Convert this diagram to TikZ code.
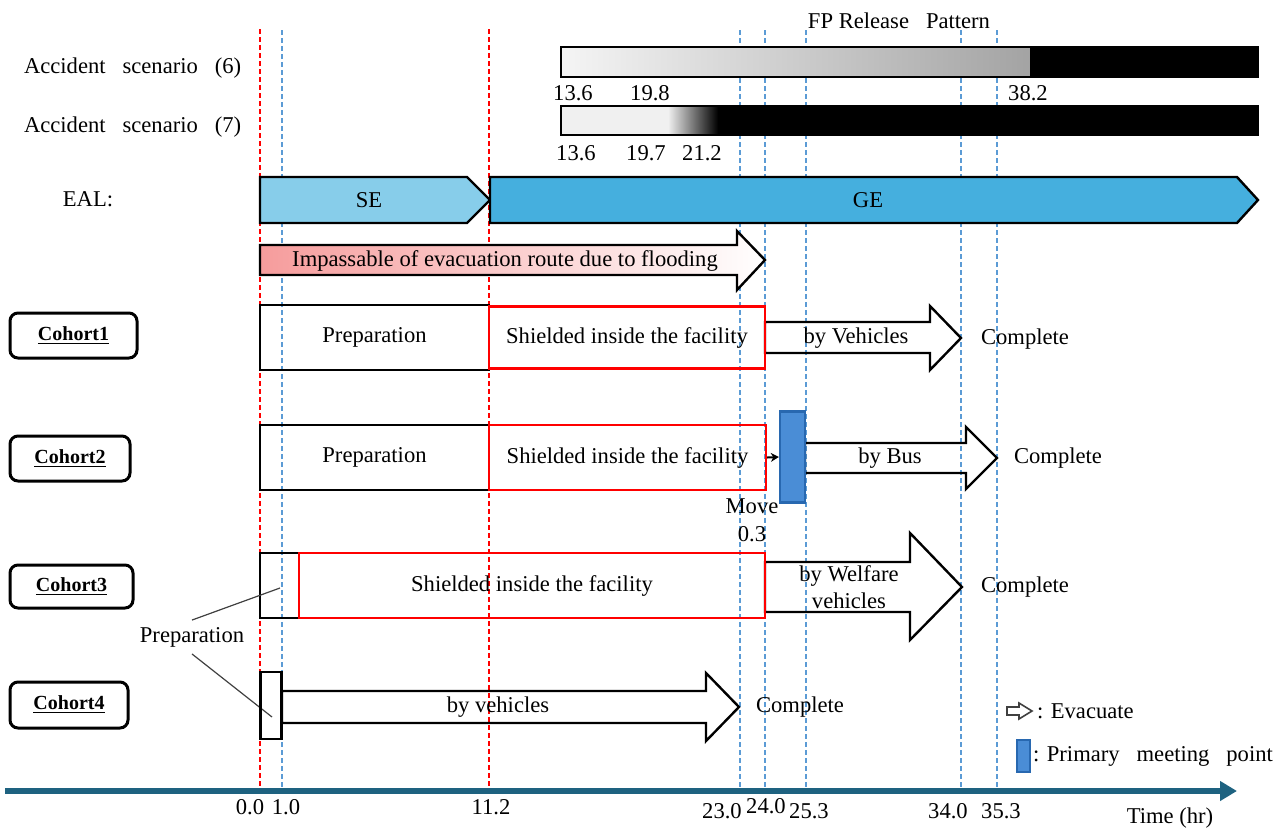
\documentclass[tikz,border=0pt]{standalone}
\usepackage{fontspec}
\setmainfont{Liberation Serif}
\usepackage{tikz}
\usetikzlibrary{calc, arrows.meta}

\definecolor{seblu}{RGB}{135,205,234}
\definecolor{geblu}{RGB}{69,175,222}
\definecolor{rosa}{RGB}{246,156,156}
\definecolor{blutratt}{RGB}{91,155,213}
\definecolor{asseblu}{RGB}{30,98,128}
\definecolor{puntoblu}{RGB}{74,141,214}
\definecolor{bordoblu}{RGB}{40,104,176}

\tikzset{
  rossotratt/.style={red, line width=0.6pt, dash pattern=on 2.5pt off 1.5pt},
  blutr/.style={blutratt, line width=0.6pt, dash pattern=on 2.5pt off 1.5pt},
  fase/.style={draw, line width=1.2pt, inner sep=0pt},
  faserossa/.style={fase, draw=red},
  coorte/.style={draw, line width=1.5pt, rounded corners=4pt, font=\bfseries, inner sep=0pt},
  freccia/.style={draw, line width=1.2pt},
  puntoraccolta/.style={fill=puntoblu, draw=bordoblu, line width=1.2pt, inner sep=0pt},
}

\begin{document}
\begin{tikzpicture}[x=0.5pt, y=-0.5pt, font=\fontsize{11.3}{13.5}\selectfont]
\useasboundingbox (0,0) rectangle (1282,832);

% linee tratteggiate verticali
\foreach \x in {260,489} \draw[rossotratt] (\x,29) -- (\x,790);
\foreach \x in {282,740,765,806,961,997} \draw[blutr] (\x,30) -- (\x,790);

% --- scenari incidentali ---
\node (fp) at (899,21) {FP Release~~~Pattern};
\node[anchor=west] (sc6) at (17,68) {Accident~~~scenario~~~(6)};
\node[anchor=west] (sc7) at (17,127) {Accident~~~scenario~~~(7)};

% barra scenario (6)
\shade[left color=gray!8, right color=gray!72] (561,47) rectangle (1030,77);
\fill (1030,47) rectangle (1258,77);
\draw[line width=1pt] (561,47) rectangle (1258,77);
\node (a136) at (573,93) {13.6};
\node (a198) at (650,93) {19.8};
\node (a382) at (1028,93) {38.2};

% barra scenario (7)
\fill[gray!12] (561,106) rectangle (668,135);
\shade[left color=gray!12, right color=black] (668,106) rectangle (718,135);
\fill (718,106) rectangle (1258,135);
\draw[line width=1pt] (561,106) rectangle (1258,135);
\node (b136) at (576,153) {13.6};
\node (b197) at (646,153) {19.7};
\node (b212) at (702,153) {21.2};

% --- EAL ---
\node (eal) at (88,199) {EAL:};
\draw[freccia, fill=seblu] (260,177) -- (467,177) -- (490,200) -- (467,223) -- (260,223) -- cycle;
\node (se) at (369,200) {SE};
\draw[freccia, fill=geblu] (490,177) -- (1237,177) -- (1258,200) -- (1237,223) -- (490,223) -- cycle;
\node (ge) at (868,200) {GE};

% allagamento
\shadedraw[freccia, left color=rosa, middle color=rosa!85, right color=white]
  (260,245) -- (737,245) -- (737,231) -- (765,260) -- (737,290) -- (737,275) -- (260,275) -- cycle;
\node (imp) at (505,261) {Impassable of evacuation route due to flooding};

% --- Cohort1 ---
\node[coorte, minimum width=63.5pt, minimum height=22.5pt] (co1) at (73.5,335.5) {\underline{Cohort1}};
\draw[freccia] (765,322) -- (930,322) -- (930,306) -- (961,338) -- (930,370) -- (930,353) -- (765,353) -- cycle;
\node[fase, minimum width=114.5pt, minimum height=32.5pt] (prep1) at (374.5,337.5) {Preparation};
\node[faserossa, minimum width=138pt, minimum height=31pt] (sch1) at (627,337.5) {Shielded inside the facility};
\node (veic1) at (856,338) {by Vehicles};
\node (fine1) at (1025,339) {Complete};

% --- Cohort2 ---
\node[coorte, minimum width=60pt, minimum height=22.5pt] (co2) at (70,458.5) {\underline{Cohort2}};
\draw[freccia] (805,443) -- (966,443) -- (966,427) -- (997,458) -- (966,489) -- (966,473) -- (805,473) -- cycle;
\node[fase, minimum width=114.5pt, minimum height=32.5pt] (prep2) at (374.5,457.5) {Preparation};
\node[faserossa, minimum width=138.5pt, minimum height=32.5pt] (sch2) at (627.5,457.5) {Shielded inside the facility};
\node[puntoraccolta, minimum width=12.5pt, minimum height=45.5pt] (pr2) at (792.5,457) {};
\draw[-{Stealth[length=4pt,width=4.5pt]}, line width=1pt] (sch2.east) -- (pr2.west);
\node (bus2) at (890,458) {by Bus};
\node (fine2) at (1058,458) {Complete};
\node (move) at (752,506) {Move};
\node (t03) at (752,534) {0.3};

% --- Cohort3 ---
\node[coorte, minimum width=61.5pt, minimum height=21.5pt] (co3) at (71.5,586.5) {\underline{Cohort3}};
\draw[freccia] (765,562) -- (910,562) -- (910,533) -- (962,587) -- (910,640) -- (910,612) -- (765,612) -- cycle;
\node[fase, minimum width=19.5pt, minimum height=32.5pt] (prep3) at (279.5,585.5) {};
\node[faserossa, minimum width=233pt, minimum height=32.5pt] (sch3) at (532,585.5) {Shielded inside the facility};
\node[align=center] (welf3) at (849,587) {by Welfare\\vehicles};
\node (fine3) at (1025,587) {Complete};

% etichetta preparazione
\node (prepl) at (192,637) {Preparation};
\coordinate (p3) at (280,588);
\coordinate (p4) at (272,717);
\draw[black!75, line width=0.6pt] (prepl.north) -- (p3);
\draw[black!75, line width=0.6pt] (prepl.south) -- (p4);

% --- Cohort4 ---
\node[coorte, minimum width=59pt, minimum height=23pt] (co4) at (69,705) {\underline{Cohort4}};
\draw[freccia] (282,691) -- (706,691) -- (706,673) -- (739,707) -- (706,741) -- (706,723) -- (282,723) -- cycle;
\node[fase, minimum width=10.5pt, minimum height=33.5pt] (prep4) at (271,705.5) {};
\node (veic4) at (498,707) {by vehicles};
\node (fine4) at (800,707) {Complete};

% legenda
\draw[line width=0.8pt, draw=black!75, fill=white]
  (1007,707) -- (1019,707) -- (1019,703) -- (1032,711) -- (1019,719) -- (1019,715) -- (1007,715) -- cycle;
\node[anchor=west] (leg1) at (1030,711) {: Evacuate};
\node[puntoraccolta, minimum width=6.5pt, minimum height=16pt] (leg2r) at (1023.5,756) {};
\node[anchor=west] (leg2) at (1026,756) {: Primary~~~meeting~~~point};

% asse dei tempi
\coordinate (a0) at (5,791);
\coordinate (a1) at (1237,791);
\draw[asseblu, line width=2.6pt, -{Triangle[length=8.5pt, width=9.5pt]}] (a0) -- (a1);
\foreach \x/\y/\t [count=\i] in {250/807/0.0, 286/807/1.0, 491/807/11.2, 722/811/23.0,
    766/806/24.0, 809/811/25.3, 948/811/34.0, 1001/811/35.3}
  \node (tk\i) at (\x,\y) {\t};
\node (tempo) at (1170,818) {Time (hr)};
\end{tikzpicture}
\end{document}
